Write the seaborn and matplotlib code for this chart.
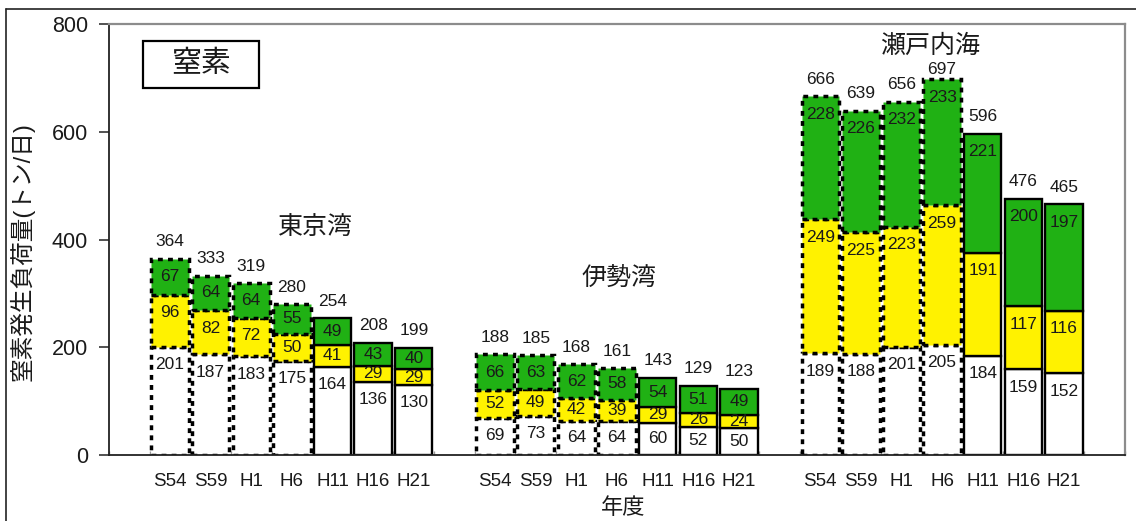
import numpy as np
import pandas as pd
import matplotlib
matplotlib.use("Agg")
import matplotlib.pyplot as plt
from matplotlib.patches import Rectangle
from matplotlib.lines import Line2D
import seaborn as sns

# ---------------- data ----------------
regions = ["東京湾", "伊勢湾", "瀬戸内海"]
years = ["S54", "S59", "H1", "H6", "H11", "H16", "H21"]

tokyo_white = [201, 187, 183, 175, 164, 136, 130]
tokyo_yellow = [96, 82, 72, 50, 41, 29, 29]
tokyo_green = [67, 64, 64, 55, 49, 43, 40]
tokyo_total = [364, 333, 319, 280, 254, 208, 199]

ise_white = [69, 73, 64, 64, 60, 52, 50]
ise_yellow = [52, 49, 42, 39, 29, 26, 24]
ise_green = [66, 63, 62, 58, 54, 51, 49]
ise_total = [188, 185, 168, 161, 143, 129, 123]

seto_white = [189, 188, 201, 205, 184, 159, 152]
seto_yellow = [249, 225, 223, 259, 191, 117, 116]
seto_green = [228, 226, 232, 233, 221, 200, 197]
seto_total = [666, 639, 656, 697, 596, 476, 465]

# ---------------- table ----------------
rows = []
for gi, (reg, w, y, g, t) in enumerate([
        ("東京湾", tokyo_white, tokyo_yellow, tokyo_green, tokyo_total),
        ("伊勢湾", ise_white, ise_yellow, ise_green, ise_total),
        ("瀬戸内海", seto_white, seto_yellow, seto_green, seto_total)]):
    for yi, yr in enumerate(years):
        rows.append(dict(region=reg, year=yr, slot=gi * 8 + yi + 1,
                         white=w[yi], yellow=y[yi], green=g[yi], total=t[yi],
                         dotted=yi < 4))
df = pd.DataFrame(rows).sort_values("slot").reset_index(drop=True)

# ---------------- style ----------------
sns.set_theme(style="white")
plt.rcParams["font.family"] = ["Liberation Sans", "Noto Sans CJK JP"]
TXT = "#1a1a1a"

W, H = 1136, 521
fig = plt.figure(figsize=(W / 100, H / 100), dpi=100)
fig.patch.set_facecolor("white")
ax = fig.add_axes([109 / W, 66 / H, (1125 - 109) / W, (455 - 24) / H])

layers = [("white", "#ffffff"), ("yellow", "#fff200"), ("green", "#20b114")]
bottom = np.zeros(len(df))
for col, color in layers:
    n0 = len(ax.patches)
    sns.barplot(data=df, x="slot", y=col, native_scale=True, width=0.92,
                color=color, saturation=1, errorbar=None,
                bottom=bottom.copy(), edgecolor="black", linewidth=1.7, ax=ax)
    for patch, dotted in zip(ax.patches[n0:], df["dotted"]):
        if dotted:
            patch.set_linestyle((0, (1.4, 1.5)))
            patch.set_linewidth(2.5)
    bottom += df[col].values

# segment labels
px_per_unit = (455 - 24) / 800
off_max = 18 / px_per_unit
for i, r in df.iterrows():
    base = 0
    for col, _ in layers:
        h = r[col]
        top = base + h
        off = min(off_max, h / 2)
        ax.text(r["slot"], top - off, f"{h}", ha="center", va="center",
                fontsize=12.5, color=TXT, zorder=5)
        base = top
    gap = 17 if base < 680 else 10
    ax.text(r["slot"], base + gap / px_per_unit, f"{r['total']}", ha="center",
            va="center", fontsize=12.5, color=TXT, zorder=5)

# group labels
ax.text(4.57, 421, regions[0], ha="center", va="center", fontsize=18, color=TXT)
ax.text(12.05, 328, regions[1], ha="center", va="center", fontsize=18, color=TXT)
ax.text(19.7, 759, regions[2], ha="center", va="center", fontsize=18, color=TXT)

# axes
ax.set_xlim(-0.5, 24.5)
ax.set_ylim(0, 800)
ax.set_yticks([0, 200, 400, 600, 800])
ax.set_xticks(df["slot"].values)
ax.set_xticklabels(df["year"].values)
ax.set_xticks(np.arange(-0.5, 25, 1), minor=True)
ax.tick_params(axis="y", which="major", direction="out", length=7, width=1.2,
               color="#333333", left=True, labelsize=15.5, pad=8, labelcolor=TXT)
ax.tick_params(axis="x", which="major", length=0, labelsize=13.5, pad=13,
               labelcolor=TXT)
ax.tick_params(axis="x", which="minor", direction="in", length=3, width=1,
               color="#999999", bottom=True)
ax.set_xlabel("")
ax.set_ylabel("")
ax.grid(False)
for s in ["left", "bottom"]:
    ax.spines[s].set_color("#222222")
    ax.spines[s].set_linewidth(1.3)
for s in ["top", "right"]:
    ax.spines[s].set_color("#8c8c8c")
    ax.spines[s].set_linewidth(1.6)

fig.text(22 / W, 1 - 252 / H, "窒素発生負荷量(トン/日)", rotation=90,
         ha="center", va="center", fontsize=17, color=TXT)
fig.text(623 / W, 1 - 508 / H, "年度", ha="center", va="center",
         fontsize=16, color=TXT)

# title box
fig.patches.append(Rectangle((143 / W, 1 - 88 / H), 116 / W, 47 / H,
                             transform=fig.transFigure, facecolor="white",
                             edgecolor="black", linewidth=1.6, zorder=5))
fig.text(201 / W, 1 - 64.5 / H, "窒素", ha="center", va="center",
         fontsize=21.5, color=TXT, zorder=6)

# outer frame
fig.lines.append(Line2D([5.5 / W, 1.0], [1 - 8.5 / H, 1 - 8.5 / H],
                        transform=fig.transFigure, color="#222222", linewidth=1.2))
fig.lines.append(Line2D([5.5 / W, 5.5 / W], [0.0, 1 - 8.5 / H],
                        transform=fig.transFigure, color="#222222", linewidth=1.2))

fig.savefig("out.png", dpi=100, facecolor="white")
